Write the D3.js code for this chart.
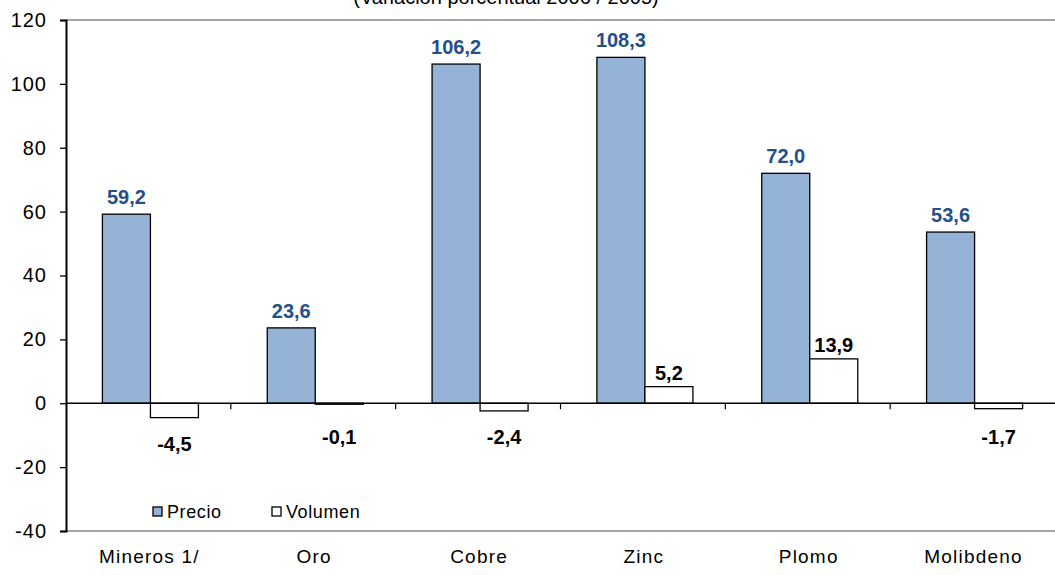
<!DOCTYPE html>
<html lang="es">
<head>
<meta charset="utf-8" />
<title>Precio y volumen</title>
<script src="https://d3js.org/d3.v7.min.js"></script>
<style>
  html, body { margin:0; padding:0; background:#fff; overflow:hidden; }
  svg { display:block; font-family:"Liberation Sans", Arial, sans-serif; }
</style>
</head>
<body>
<svg id="chart" width="1055" height="575"></svg>
<script>
  // data
  const categories = ["Mineros 1/", "Oro", "Cobre", "Zinc", "Plomo", "Molibdeno"];
  const precio = [59.2, 23.6, 106.2, 108.3, 72.0, 53.6];
  const volumen = [-4.5, -0.1, -2.4, 5.2, 13.9, -1.7];
  const yTicks = [-40, -20, 0, 20, 40, 60, 80, 100, 120];
  const seriesNames = ["Precio", "Volumen"];

  const svg = d3.select("#chart");
  const plotL = 66, plotR = 1055, plotT = 20, plotB = 531;
  const pairW = 96;

  const x = d3.scaleBand().domain(categories).range([plotL, plotR]);
  const inner = d3.scaleBand().domain(seriesNames).range([0, pairW]);
  const y = d3.scaleLinear().domain([-40, 120]).range([plotB, plotT]);

  // hyphen minus and decimal comma, like the original
  const fmt = v => v.toFixed(1).replace(".", ",");

  // title, cut off at the top edge as in the reference
  svg.append("text")
    .attr("x", 506).attr("y", 4)
    .attr("text-anchor", "middle")
    .attr("font-size", 20)
    .attr("fill", "#000")
    .text("(Variación porcentual 2006 / 2005)");

  // frame lines top/bottom
  svg.append("line").attr("x1", plotL).attr("x2", plotR).attr("y1", plotT).attr("y2", plotT)
    .attr("stroke", "#888").attr("stroke-width", 1.5);
  svg.append("line").attr("x1", plotL).attr("x2", plotR).attr("y1", plotB).attr("y2", plotB)
    .attr("stroke", "#888").attr("stroke-width", 1.5);

  const rows = categories.map((c, i) => ({ c, p: precio[i], v: volumen[i] }));
  const off = c => x(c) + (x.bandwidth() - pairW) / 2 + 2;

  // Precio bars
  svg.append("g").selectAll("rect").data(rows).join("rect")
    .attr("x", d => off(d.c) + inner("Precio"))
    .attr("width", inner.bandwidth())
    .attr("y", d => y(d.p))
    .attr("height", d => y(0) - y(d.p))
    .attr("fill", "#95b3d7")
    .attr("stroke", "#000").attr("stroke-width", 1.3);

  // Volumen bars
  svg.append("g").selectAll("rect").data(rows).join("rect")
    .attr("x", d => off(d.c) + inner("Volumen"))
    .attr("width", inner.bandwidth())
    .attr("y", d => y(Math.max(0, d.v)))
    .attr("height", d => Math.max(1, Math.abs(y(d.v) - y(0))))
    .attr("fill", "#fff")
    .attr("stroke", "#000").attr("stroke-width", 1.3);

  // labels
  svg.append("g").selectAll("text").data(rows).join("text")
    .attr("x", d => off(d.c) + inner("Precio") + inner.bandwidth() / 2)
    .attr("y", d => y(d.p) - 10)
    .attr("text-anchor", "middle")
    .attr("font-size", 20).attr("font-weight", "bold")
    .attr("fill", "#24508a")
    .text(d => fmt(d.p));

  svg.append("g").selectAll("text").data(rows).join("text")
    .attr("x", d => off(d.c) + inner("Volumen") + inner.bandwidth() / 2)
    .attr("y", d => d.v >= 0 ? y(d.v) - 7 : Math.max(y(d.v) + 33, y(0) + 41))
    .attr("text-anchor", "middle")
    .attr("font-size", 20).attr("font-weight", "bold")
    .attr("fill", "#000")
    .text(d => fmt(d.v));

  // zero line with category separators
  svg.append("line").attr("x1", plotL).attr("x2", plotR).attr("y1", y(0)).attr("y2", y(0))
    .attr("stroke", "#000").attr("stroke-width", 1.5);
  svg.append("g").selectAll("line").data(categories.slice(1)).join("line")
    .attr("x1", d => x(d)).attr("x2", d => x(d))
    .attr("y1", y(0)).attr("y2", y(0) + 6)
    .attr("stroke", "#000").attr("stroke-width", 1.2);

  // y axis
  const yAxis = svg.append("g").attr("transform", `translate(${plotL},0)`)
    .call(d3.axisLeft(y).tickValues(yTicks).tickSize(6).tickPadding(13).tickFormat(d => String(d)));
  yAxis.selectAll("path").attr("stroke", "#000").attr("stroke-width", 2);
  yAxis.selectAll("line").attr("stroke", "#000").attr("stroke-width", 1.3);
  yAxis.selectAll("text").attr("font-size", 20).attr("fill", "#000")
    .attr("letter-spacing", 1)
    .attr("font-family", "Liberation Sans, Arial, sans-serif");

  // category labels
  svg.append("g").selectAll("text").data(categories).join("text")
    .attr("x", d => x(d) + x.bandwidth() / 2 + 1)
    .attr("y", 563)
    .attr("text-anchor", "middle")
    .attr("font-size", 19).attr("fill", "#000")
    .attr("letter-spacing", 1.2)
    .text(d => d);

  // legend
  const legend = svg.append("g").attr("transform", "translate(153,512)");
  const lx = [0, 119];
  seriesNames.forEach((s, i) => {
    legend.append("rect").attr("x", lx[i]).attr("y", -5).attr("width", 9).attr("height", 9)
      .attr("fill", i === 0 ? "#95b3d7" : "#fff").attr("stroke", "#000").attr("stroke-width", 1.3);
    legend.append("text").attr("x", lx[i] + 14).attr("y", 6)
      .attr("font-size", 18).attr("fill", "#000")
      .attr("letter-spacing", 0.6).text(s);
  });
</script>
</body>
</html>
